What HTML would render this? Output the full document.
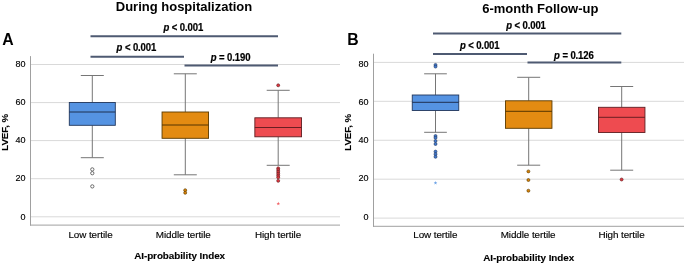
<!DOCTYPE html>
<html><head><meta charset="utf-8">
<style>
html,body{margin:0;padding:0;background:#fff;width:685px;height:264px;overflow:hidden}
svg{display:block;will-change:transform;font-family:"Liberation Sans",sans-serif}
.t{font-weight:bold;font-size:13px;fill:#000}
.pl{font-weight:bold;font-size:15.8px;fill:#000}
.yt{font-size:9px;fill:#000;stroke:#000;stroke-width:0.15px;text-anchor:end}
.xt{font-size:9.9px;letter-spacing:-0.08px;fill:#000;stroke:#000;stroke-width:0.15px;text-anchor:middle}
.xl{font-size:9.9px;font-weight:bold;fill:#000;stroke:#000;stroke-width:0.12px;text-anchor:middle;letter-spacing:-0.07px}
.yl{font-size:9.7px;font-weight:bold;fill:#000;stroke:#000;stroke-width:0.12px;text-anchor:middle}
.pv{font-size:9.85px;font-weight:bold;fill:#000;stroke:#000;stroke-width:0.2px;text-anchor:middle;letter-spacing:-0.12px}
.pv tspan.i{font-style:italic}
.g{stroke:#d9d9d9;stroke-width:1}
.ax{stroke:#a0a0a0;stroke-width:1}
.br{stroke:#4e5a72;stroke-width:2}
.w{stroke:#767676;stroke-width:1;fill:none}
.bx{stroke-width:0.9}
.md{stroke-width:1}
</style></head>
<body>
<svg width="685" height="264" viewBox="0 0 685 264">
<text class="t" x="184" y="11.4" text-anchor="middle">During hospitalization</text>
<text class="pl" x="2.3" y="45.2">A</text>
<line class="g" x1="30.5" y1="64.5" x2="340" y2="64.5"/>
<line class="g" x1="30.5" y1="102.6" x2="340" y2="102.6"/>
<line class="g" x1="30.5" y1="140.6" x2="340" y2="140.6"/>
<line class="g" x1="30.5" y1="178.7" x2="340" y2="178.7"/>
<line class="g" x1="30.5" y1="216.8" x2="340" y2="216.8"/>
<line class="ax" x1="30.5" y1="56.1" x2="30.5" y2="225.6"/>
<line class="ax" x1="30.0" y1="225.1" x2="340" y2="225.1"/>
<text class="yt" x="25.5" y="67.3">80</text>
<text class="yt" x="25.5" y="104.9">60</text>
<text class="yt" x="25.5" y="142.7">40</text>
<text class="yt" x="25.5" y="180.8">20</text>
<text class="yt" x="25.5" y="219.6">0</text>
<text class="yl" transform="translate(8.2,132.3) rotate(-90)">LVEF, %</text>
<text class="xt" x="90.5" y="238.2">Low tertile</text>
<text class="xt" x="183.3" y="238.2">Middle tertile</text>
<text class="xt" x="278" y="238.2">High tertile</text>
<text class="xl" x="179.6" y="258.8">AI-probability Index</text>
<line class="br" x1="90.5" y1="36.2" x2="278" y2="36.2"/>
<line class="br" x1="90.5" y1="56.8" x2="184" y2="56.8"/>
<line class="br" x1="184.5" y1="65.5" x2="278" y2="65.5"/>
<text class="pv" transform="translate(183.3,30.9) scale(0.97,1.06)"><tspan class="i">p</tspan> &lt; 0.001</text>
<text class="pv" transform="translate(136.4,50.9) scale(0.97,1.06)"><tspan class="i">p</tspan> &lt; 0.001</text>
<text class="pv" transform="translate(230.6,60.9) scale(0.97,1.06)"><tspan class="i">p</tspan> = 0.190</text>
<line class="w" x1="92.3" y1="75.5" x2="92.3" y2="102.5"/>
<line class="w" x1="92.3" y1="125.3" x2="92.3" y2="157.7"/>
<line class="w" x1="80.8" y1="75.5" x2="103.8" y2="75.5"/>
<line class="w" x1="80.8" y1="157.7" x2="103.8" y2="157.7"/>
<rect class="bx" x="69.3" y="102.5" width="46" height="22.8" fill="#5593e2" stroke="#22375c"/>
<line class="md" x1="69.3" y1="112" x2="115.3" y2="112" stroke="#1e3050"/>
<circle cx="92.3" cy="169.4" r="1.65" fill="none" stroke="#555" stroke-width="0.85"/>
<circle cx="92.3" cy="173.2" r="1.65" fill="none" stroke="#555" stroke-width="0.85"/>
<circle cx="92.3" cy="186.4" r="1.65" fill="none" stroke="#555" stroke-width="0.85"/>
<line class="w" x1="185.3" y1="73.8" x2="185.3" y2="112"/>
<line class="w" x1="185.3" y1="138.3" x2="185.3" y2="174.8"/>
<line class="w" x1="173.8" y1="73.8" x2="196.8" y2="73.8"/>
<line class="w" x1="173.8" y1="174.8" x2="196.8" y2="174.8"/>
<rect class="bx" x="162.05" y="112" width="46.5" height="26.3" fill="#e38b12" stroke="#5a3a00"/>
<line class="md" x1="162.05" y1="125" x2="208.55" y2="125" stroke="#553500"/>
<circle cx="185.2" cy="190.2" r="1.5" fill="#d88208" stroke="#5a3a00" stroke-width="0.6"/>
<circle cx="185.2" cy="192.8" r="1.5" fill="#d88208" stroke="#5a3a00" stroke-width="0.6"/>
<line class="w" x1="278.2" y1="90.3" x2="278.2" y2="117.8"/>
<line class="w" x1="278.2" y1="136.8" x2="278.2" y2="165.3"/>
<line class="w" x1="266.7" y1="90.3" x2="289.7" y2="90.3"/>
<line class="w" x1="266.7" y1="165.3" x2="289.7" y2="165.3"/>
<rect class="bx" x="254.85" y="117.8" width="46.7" height="19.0" fill="#ee4b50" stroke="#5e1e22"/>
<line class="md" x1="254.85" y1="127.5" x2="301.55" y2="127.5" stroke="#6a1e22"/>
<circle cx="278.2" cy="85.3" r="1.5" fill="#e03840" stroke="#5e1e22" stroke-width="0.6"/>
<circle cx="278.2" cy="168.3" r="1.5" fill="#e03840" stroke="#5e1e22" stroke-width="0.6"/>
<circle cx="278.2" cy="170.10000000000002" r="1.5" fill="#e03840" stroke="#5e1e22" stroke-width="0.6"/>
<circle cx="278.2" cy="171.9" r="1.5" fill="#e03840" stroke="#5e1e22" stroke-width="0.6"/>
<circle cx="278.2" cy="173.70000000000002" r="1.5" fill="#e03840" stroke="#5e1e22" stroke-width="0.6"/>
<circle cx="278.2" cy="175.5" r="1.5" fill="#e03840" stroke="#5e1e22" stroke-width="0.6"/>
<circle cx="278.2" cy="177.3" r="1.5" fill="#e03840" stroke="#5e1e22" stroke-width="0.6"/>
<circle cx="278.2" cy="180.8" r="1.5" fill="#e03840" stroke="#5e1e22" stroke-width="0.6"/>
<polygon points="278.30,201.70 278.77,202.95 280.11,203.01 279.06,203.85 279.42,205.14 278.30,204.40 277.18,205.14 277.54,203.85 276.49,203.01 277.83,202.95" fill="#ee4b50" opacity="0.85"/>
<text class="t" x="540.3" y="12.5" text-anchor="middle">6-month Follow-up</text>
<text class="pl" x="347.3" y="44.6">B</text>
<line class="g" x1="373.5" y1="62.4" x2="684" y2="62.4"/>
<line class="g" x1="373.5" y1="101.3" x2="684" y2="101.3"/>
<line class="g" x1="373.5" y1="140.25" x2="684" y2="140.25"/>
<line class="g" x1="373.5" y1="179.2" x2="684" y2="179.2"/>
<line class="g" x1="373.5" y1="218.1" x2="684" y2="218.1"/>
<line class="ax" x1="373.5" y1="53.7" x2="373.5" y2="226.8"/>
<line class="ax" x1="373.0" y1="226.3" x2="684" y2="226.3"/>
<text class="yt" x="368.5" y="67.3">80</text>
<text class="yt" x="368.5" y="104.9">60</text>
<text class="yt" x="368.5" y="142.7">40</text>
<text class="yt" x="368.5" y="180.8">20</text>
<text class="yt" x="368.5" y="219.6">0</text>
<text class="yl" transform="translate(350.6,132.3) rotate(-90)">LVEF, %</text>
<text class="xt" x="435.3" y="238.2">Low tertile</text>
<text class="xt" x="528.1" y="238.2">Middle tertile</text>
<text class="xt" x="621.5" y="238.2">High tertile</text>
<text class="xl" x="528.7" y="260.8">AI-probability Index</text>
<line class="br" x1="433" y1="33.4" x2="621.3" y2="33.4"/>
<line class="br" x1="433" y1="53.9" x2="527" y2="53.9"/>
<line class="br" x1="527.5" y1="62.6" x2="621.3" y2="62.6"/>
<text class="pv" transform="translate(526,29.1) scale(0.97,1.06)"><tspan class="i">p</tspan> &lt; 0.001</text>
<text class="pv" transform="translate(479.7,49.1) scale(0.97,1.06)"><tspan class="i">p</tspan> &lt; 0.001</text>
<text class="pv" transform="translate(573.9,58.6) scale(0.97,1.06)"><tspan class="i">p</tspan> = 0.126</text>
<line class="w" x1="435.5" y1="73.8" x2="435.5" y2="95"/>
<line class="w" x1="435.5" y1="110.5" x2="435.5" y2="132.3"/>
<line class="w" x1="424.15" y1="73.8" x2="446.85" y2="73.8"/>
<line class="w" x1="424.15" y1="132.3" x2="446.85" y2="132.3"/>
<rect class="bx" x="412.25" y="95" width="46.5" height="15.5" fill="#5593e2" stroke="#22375c"/>
<line class="md" x1="412.25" y1="102.3" x2="458.75" y2="102.3" stroke="#1e3050"/>
<circle cx="435.5" cy="64.9" r="1.5" fill="#3f78d0" stroke="#22375c" stroke-width="0.6"/>
<circle cx="435.5" cy="66.6" r="1.5" fill="#3f78d0" stroke="#22375c" stroke-width="0.6"/>
<circle cx="435.5" cy="136" r="1.5" fill="#3f78d0" stroke="#22375c" stroke-width="0.6"/>
<circle cx="435.5" cy="137.8" r="1.5" fill="#3f78d0" stroke="#22375c" stroke-width="0.6"/>
<circle cx="435.5" cy="141" r="1.5" fill="#3f78d0" stroke="#22375c" stroke-width="0.6"/>
<circle cx="435.5" cy="144" r="1.5" fill="#3f78d0" stroke="#22375c" stroke-width="0.6"/>
<circle cx="435.5" cy="151.6" r="1.5" fill="#3f78d0" stroke="#22375c" stroke-width="0.6"/>
<circle cx="435.5" cy="154.2" r="1.5" fill="#3f78d0" stroke="#22375c" stroke-width="0.6"/>
<circle cx="435.5" cy="156.8" r="1.5" fill="#3f78d0" stroke="#22375c" stroke-width="0.6"/>
<polygon points="435.50,181.10 435.97,182.35 437.31,182.41 436.26,183.25 436.62,184.54 435.50,183.80 434.38,184.54 434.74,183.25 433.69,182.41 435.03,182.35" fill="#5593e2" opacity="0.85"/>
<line class="w" x1="528.7" y1="77.3" x2="528.7" y2="100.8"/>
<line class="w" x1="528.7" y1="128.3" x2="528.7" y2="165.2"/>
<line class="w" x1="517.2" y1="77.3" x2="540.2" y2="77.3"/>
<line class="w" x1="517.2" y1="165.2" x2="540.2" y2="165.2"/>
<rect class="bx" x="505.45000000000005" y="100.8" width="46.5" height="27.5" fill="#e38b12" stroke="#5a3a00"/>
<line class="md" x1="505.45000000000005" y1="111.3" x2="551.95" y2="111.3" stroke="#553500"/>
<circle cx="528.4" cy="171.4" r="1.5" fill="#d88208" stroke="#5a3a00" stroke-width="0.6"/>
<circle cx="528.4" cy="180" r="1.5" fill="#d88208" stroke="#5a3a00" stroke-width="0.6"/>
<circle cx="528.4" cy="190.7" r="1.5" fill="#d88208" stroke="#5a3a00" stroke-width="0.6"/>
<line class="w" x1="621.7" y1="86.5" x2="621.7" y2="107.3"/>
<line class="w" x1="621.7" y1="132.5" x2="621.7" y2="170.2"/>
<line class="w" x1="610.2" y1="86.5" x2="633.2" y2="86.5"/>
<line class="w" x1="610.2" y1="170.2" x2="633.2" y2="170.2"/>
<rect class="bx" x="598.45" y="107.3" width="46.5" height="25.2" fill="#ee4b50" stroke="#5e1e22"/>
<line class="md" x1="598.45" y1="117.3" x2="644.95" y2="117.3" stroke="#6a1e22"/>
<circle cx="621.6" cy="179.5" r="1.5" fill="#e03840" stroke="#5e1e22" stroke-width="0.6"/>
</svg>
</body></html>
